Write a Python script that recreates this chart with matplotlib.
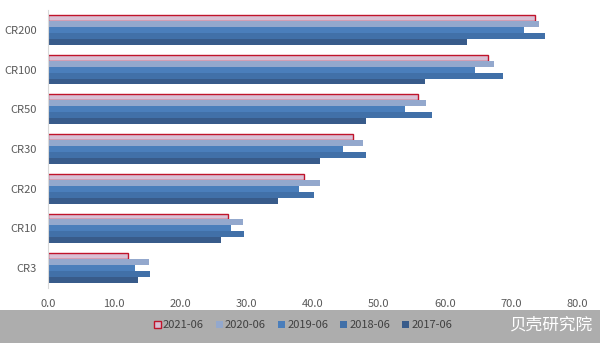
import numpy as np
import matplotlib as mpl
mpl.use('Agg')
import matplotlib.pyplot as plt
from matplotlib.patches import Rectangle

plt.rcParams['font.family'] = ['Noto Sans CJK SC', 'DejaVu Sans']

categories = ["CR3", "CR10", "CR20", "CR30", "CR50", "CR100", "CR200"]
years = ["2021-06", "2020-06", "2019-06", "2018-06", "2017-06"]
v2021 = [12.1, 27.2, 38.7, 46.1, 55.9, 66.5, 73.7]
v2020 = [15.3, 29.5, 41.1, 47.7, 57.2, 67.4, 74.2]
v2019 = [13.2, 27.6, 38.0, 44.6, 54.0, 64.5, 72.0]
v2018 = [15.4, 29.7, 40.2, 48.1, 58.1, 68.8, 75.2]
v2017 = [13.6, 26.2, 34.8, 41.1, 48.1, 57.0, 63.4]
series = [v2021, v2020, v2019, v2018, v2017]

fills = ["#D8C0D5", "#93A8CD", "#4A7EBB", "#4170A8", "#385B8A"]
edges = ["#C0142B", "none", "none", "none", "none"]

fig = plt.figure(figsize=(6, 3.43), dpi=100)
fig.patches.append(Rectangle((0, 0), 1, 33 / 343, transform=fig.transFigure,
                             facecolor="#ADADAD", edgecolor="none", zorder=0))
ax = fig.add_axes([48 / 600, 55 / 343, 529 / 600, 278 / 343])

y = np.arange(len(categories))
h = 0.15
for i, (vals, lab) in enumerate(zip(series, years)):
    offs = (2 - i) * h
    ax.barh(y + offs, vals, height=h, color=fills[i], edgecolor=edges[i],
            linewidth=1.0 if i == 0 else 0, label=lab)

ax.set_xlim(0, 80)
ax.set_ylim(-0.5, len(categories) - 0.5)
ax.set_xticks(np.arange(0, 81, 10))
ax.set_xticklabels(["%.1f" % t for t in np.arange(0, 81, 10)])
ax.set_yticks(y)
ax.set_yticklabels(categories)
ax.tick_params(axis='both', length=0, labelsize=8, colors="#595959")
ax.tick_params(axis='x', pad=8)
ax.tick_params(axis='y', pad=8)
for s in ["top", "right", "bottom"]:
    ax.spines[s].set_visible(False)
ax.spines["left"].set_color("#D9D9D9")
ax.spines["left"].set_linewidth(0.8)

handles, labels = ax.get_legend_handles_labels()
fig.legend(handles, labels, loc="center", bbox_to_anchor=(0.505, 18 / 343),
           ncol=5, frameon=False, fontsize=8, handlelength=0.6,
           handleheight=0.6, handletextpad=0.2, columnspacing=1.1,
           labelcolor="#404040")
fig.text(0.987, 18 / 343, "贝壳研究院", color="white", fontsize=12,
         ha="right", va="center")

plt.savefig("out.png", dpi=100)
